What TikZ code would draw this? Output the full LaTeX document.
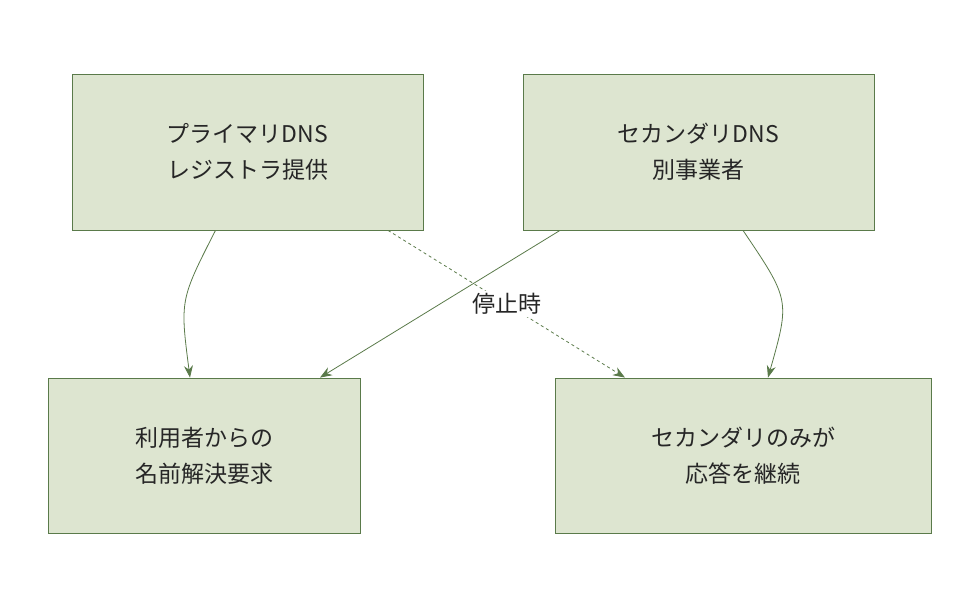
\documentclass[tikz,border=0pt]{standalone}
\usepackage{fontspec}
\setmainfont{Noto Sans CJK JP}
\usetikzlibrary{arrows.meta}
\definecolor{boxfill}{HTML}{DDE5D0}
\definecolor{boxline}{HTML}{5A7A4A}
\tikzset{
  box/.style={draw=boxline, fill=boxfill, thick, align=center, font=\fontsize{23}{36}\selectfont, text=black!85},
  link/.style={boxline, thick, -{Stealth[length=12pt,width=9pt]}}
}
\begin{document}
\begin{tikzpicture}[x=1pt, y=-1pt]
\useasboundingbox (0,0) rectangle (978,612);
\node[box, minimum width=351pt, minimum height=156pt] (prim) at (247.5,152) {プライマリDNS\\レジストラ提供};
\node[box, minimum width=351pt, minimum height=156pt] (sec) at (698.5,152) {セカンダリDNS\\別事業者};
\node[box, minimum width=312pt, minimum height=155pt] (user) at (204,455.5) {利用者からの\\名前解決要求};
\node[box, minimum width=376pt, minimum height=155pt] (cont) at (743,455.5) {セカンダリのみが\\応答を継続};

\draw[link] ([xshift=-32pt]prim.south) .. controls (180,300) .. ([xshift=-14pt]user.north);
\draw[link] ([xshift=44.5pt]sec.south) .. controls (790,300) .. ([xshift=25pt]cont.north);
\draw[link] ([xshift=-138.5pt]sec.south) -- ([xshift=116pt]user.north);
\draw[link, dashed] ([xshift=140.5pt]prim.south) -- node[fill=white, font=\fontsize{23}{28}\selectfont, text=black!85, inner sep=2pt] (stop) {停止時} ([xshift=-118pt]cont.north);
\end{tikzpicture}
\end{document}
